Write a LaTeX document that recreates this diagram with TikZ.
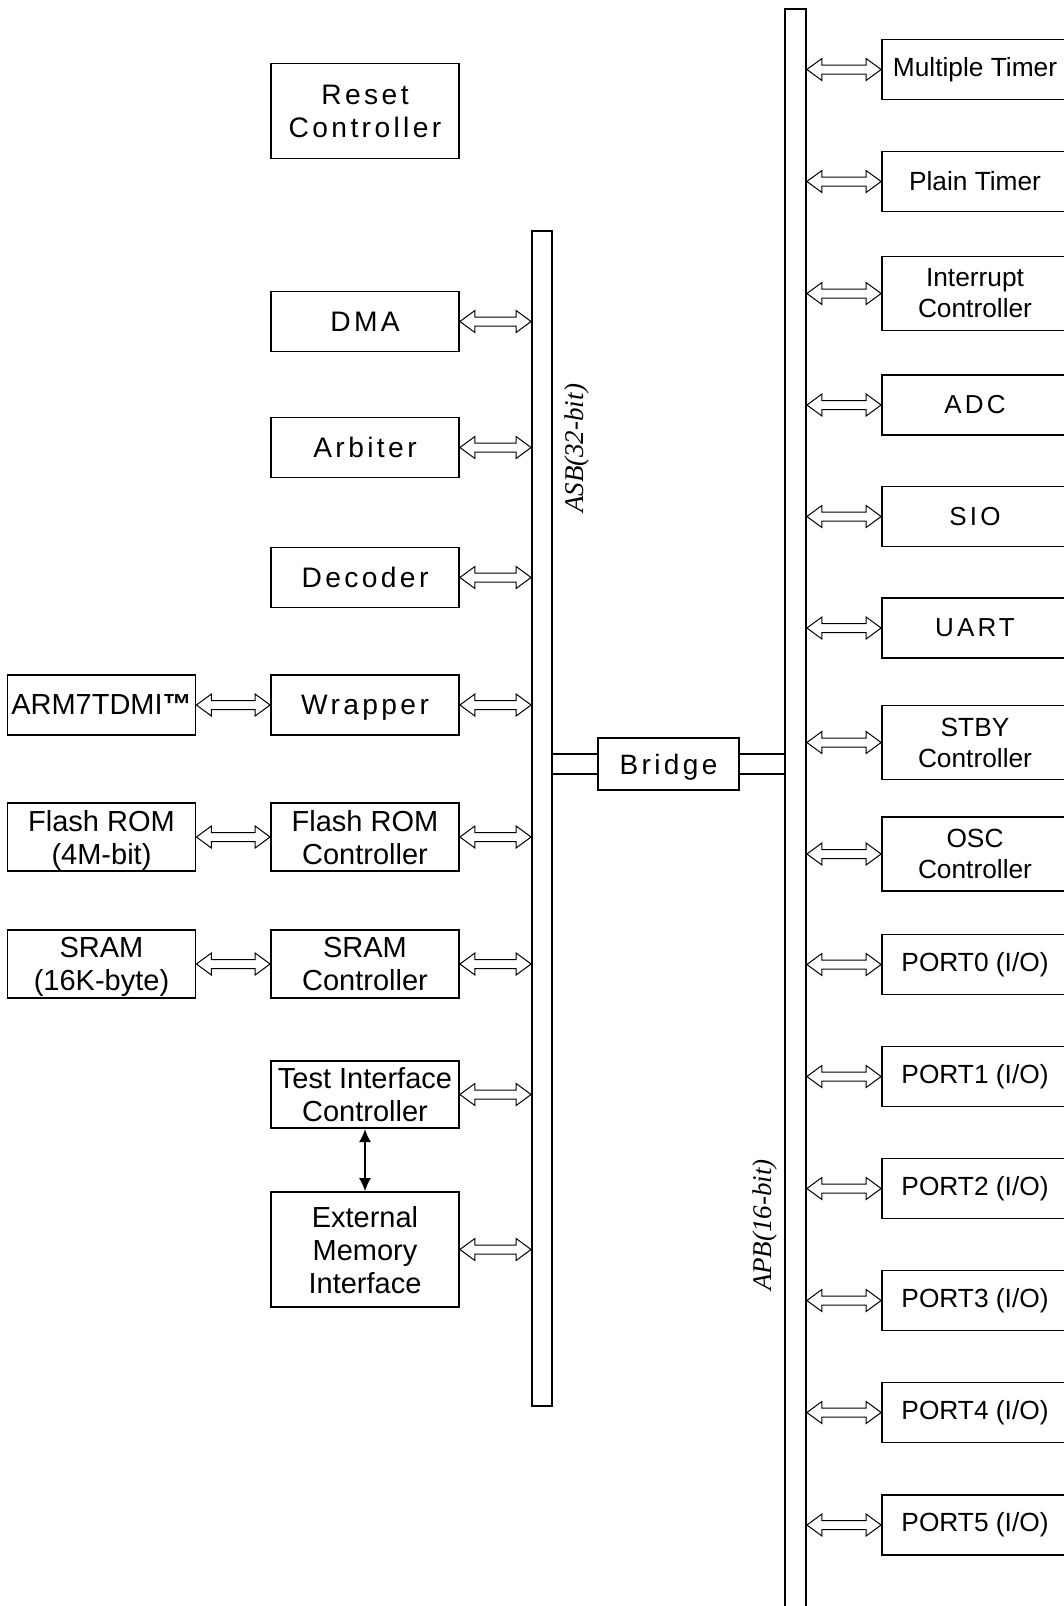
\documentclass[tikz,border=0pt]{standalone}
\usepackage{fontspec}
\setmainfont{Liberation Sans}
\newfontfamily\spacedfont[LetterSpace=12]{Liberation Sans}
\newfontfamily\busfont{Liberation Serif}
\usetikzlibrary{calc,arrows.meta}
% hollow two-headed bus arrow, tip to tip
\newcommand{\busarrow}[2]{%
  \draw[busarr] let \p1=(#1), \p2=(#2) in
    (\x1,\y1) -- (\x1+15pt,\y1+11pt) -- (\x1+15pt,\y1+4.5pt) -- (\x2-15pt,\y1+4.5pt)
    -- (\x2-15pt,\y1+11pt) -- (\x2,\y1) -- (\x2-15pt,\y1-11pt) -- (\x2-15pt,\y1-4.5pt)
    -- (\x1+15pt,\y1-4.5pt) -- (\x1+15pt,\y1-11pt) -- cycle;}

\begin{document}
\begin{tikzpicture}[x=1pt,y=-1pt,
  blk/.style={draw,line width=1.8pt,inner sep=0pt,minimum width=188pt,minimum height=60pt,
    align=center,font=\fontsize{29}{33}\selectfont},
  mblk/.style={blk,text depth=-5pt},
  sblk/.style={blk,text depth=0pt,font=\spacedfont\fontsize{28.2}{33}\selectfont},
  rblk/.style={blk,minimum width=186pt,font=\fontsize{26.3}{31}\selectfont},
  rsblk/.style={rblk,font=\spacedfont\fontsize{26}{31}\selectfont},
  bus/.style={draw,line width=1.8pt,inner sep=0pt,minimum width=20pt},
  busarr/.style={line width=1pt,line join=miter},
  buslabel/.style={rotate=90,font=\busfont\itshape\fontsize{27}{30}\selectfont}]
	\useasboundingbox (0,0) rectangle (1064,1606);
	\clip (0,0) rectangle (1064,1606);

	% ASB side
	\node[sblk,minimum height=95pt] at (365,111)(reset){Reset\\Controller};
	\node[sblk] at (365,321.5)(dma){DMA};
	\node[sblk] at (365,447.5)(arbiter){Arbiter};
	\node[sblk] at (365,577.5)(decoder){Decoder};
	\node[sblk] at (365,705)(wrapper){Wrapper};
	\node[mblk,minimum height=67.5pt] at (365,837)(flashctl){Flash ROM\\Controller};
	\node[mblk,minimum height=67.5pt] at (365,964)(sramctl){SRAM\\Controller};
	\node[mblk,minimum height=67.5pt] at (365,1094.5)(tic){Test Interface\\Controller};
	\node[mblk,minimum height=115pt] at (365,1249.5)(emi){External\\Memory\\Interface};

	\node[blk] at (101.5,705)(arm){ARM7TDMI\textbf{™}};
	\node[mblk,minimum height=68pt] at (101.5,837)(flashrom){Flash ROM\\(4M-bit)};
	\node[mblk,minimum height=68pt] at (101.5,964)(sram){SRAM\\(16K-byte)};

	\node[bus,minimum height=1175pt] at (542,818.5)(asb){};
	\node[buslabel] at (577,448.5){ASB(32-bit)};

	\busarrow{dma.east}{dma.east -| asb.west}
	\busarrow{arbiter.east}{arbiter.east -| asb.west}
	\busarrow{decoder.east}{decoder.east -| asb.west}
	\busarrow{wrapper.east}{wrapper.east -| asb.west}
	\busarrow{flashctl.east}{flashctl.east -| asb.west}
	\busarrow{sramctl.east}{sramctl.east -| asb.west}
	\busarrow{tic.east}{tic.east -| asb.west}
	\busarrow{emi.east}{emi.east -| asb.west}
	\busarrow{arm.east}{wrapper.west}
	\busarrow{flashrom.east}{flashctl.west}
	\busarrow{sram.east}{sramctl.west}
	\draw[line width=1.2pt,{Latex[length=13pt,width=12pt]}-{Latex[length=13pt,width=12pt]}] (tic)--(emi);

	% bridge
	\node[draw,line width=1.5pt,minimum width=141pt,minimum height=52pt,text depth=0pt,
	  font=\spacedfont\fontsize{28}{30}\selectfont] at (668.5,764)(bridge){Bridge};
	\node[bus,minimum width=21pt,minimum height=1611pt] at (795.5,814.5)(apb){};
	\node[buslabel] at (765,1225){APB(16-bit)};
	\coordinate (bl1) at ([yshift=10pt]bridge.west);
	\coordinate (bl2) at ([yshift=-10pt]bridge.west);
	\coordinate (br1) at ([yshift=10pt]bridge.east);
	\coordinate (br2) at ([yshift=-10pt]bridge.east);
	\draw[line width=1.5pt] (bl1)--(bl1 -| asb.east) (bl2)--(bl2 -| asb.east);
	\draw[line width=1.5pt] (br1)--(br1 -| apb.west) (br2)--(br2 -| apb.west);

	% APB side
	\node[rblk] at (975,69.5)(mtimer){Multiple Timer};
	\node[rblk] at (975,181.5)(ptimer){Plain Timer};
	\node[rblk,minimum height=74pt] at (975,293.5)(intc){Interrupt\\Controller};
	\node[rsblk] at (975,405)(adc){ADC};
	\node[rsblk] at (975,516.5)(sio){SIO};
	\node[rsblk] at (975,628)(uart){UART};
	\node[rblk,minimum height=74pt] at (975,742.5)(stby){STBY\\Controller};
	\node[rblk,minimum height=74pt] at (975,854)(osc){OSC\\Controller};
	\node[rblk] at (975,964.5)(port0){PORT0 (I/O)};
	\node[rblk] at (975,1076.5)(port1){PORT1 (I/O)};
	\node[rblk] at (975,1188.5)(port2){PORT2 (I/O)};
	\node[rblk] at (975,1300.5)(port3){PORT3 (I/O)};
	\node[rblk] at (975,1412.5)(port4){PORT4 (I/O)};
	\node[rblk] at (975,1525)(port5){PORT5 (I/O)};

	\busarrow{apb.east |- mtimer.west}{mtimer.west}
	\busarrow{apb.east |- ptimer.west}{ptimer.west}
	\busarrow{apb.east |- intc.west}{intc.west}
	\busarrow{apb.east |- adc.west}{adc.west}
	\busarrow{apb.east |- sio.west}{sio.west}
	\busarrow{apb.east |- uart.west}{uart.west}
	\busarrow{apb.east |- stby.west}{stby.west}
	\busarrow{apb.east |- osc.west}{osc.west}
	\busarrow{apb.east |- port0.west}{port0.west}
	\busarrow{apb.east |- port1.west}{port1.west}
	\busarrow{apb.east |- port2.west}{port2.west}
	\busarrow{apb.east |- port3.west}{port3.west}
	\busarrow{apb.east |- port4.west}{port4.west}
	\busarrow{apb.east |- port5.west}{port5.west}
\end{tikzpicture}
\end{document}
